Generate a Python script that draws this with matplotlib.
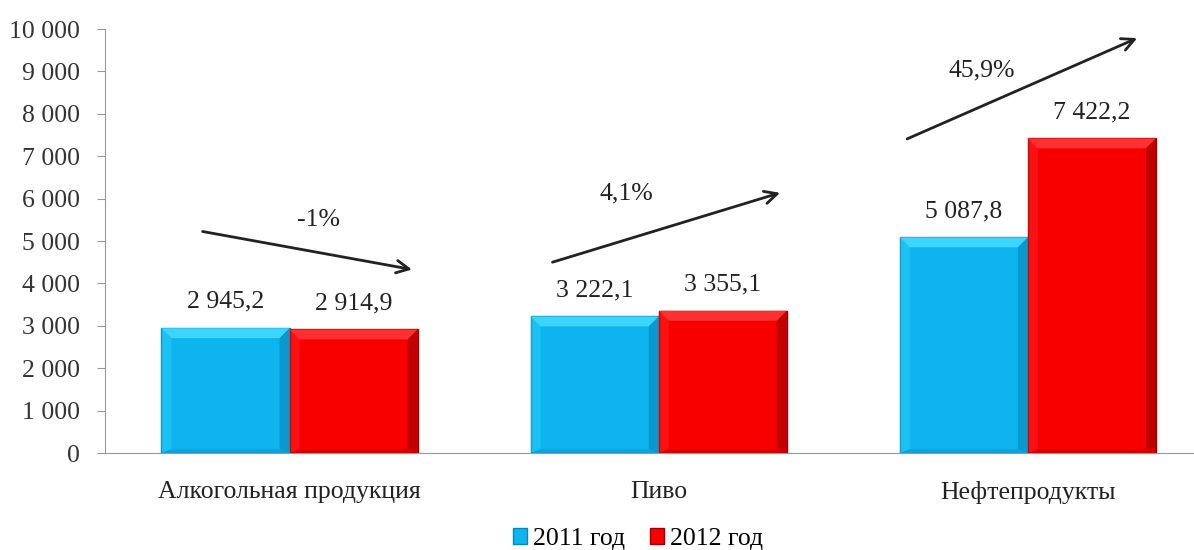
import matplotlib
matplotlib.use("Agg")
import matplotlib.pyplot as plt
from matplotlib.patches import Polygon
import numpy as np

categories = ["Алкогольная продукция", "Пиво", "Нефтепродукты"]
series_names = ["2011 год", "2012 год"]
values_2011 = [2945.2, 3222.1, 5087.8]
values_2012 = [2914.9, 3355.1, 7422.2]
value_labels_2011 = ["2 945,2", "3 222,1", "5 087,8"]
value_labels_2012 = ["2 914,9", "3 355,1", "7 422,2"]
growth_labels = ["-1%", "4,1%", "45,9%"]
yticks = [0, 1000, 2000, 3000, 4000, 5000, 6000, 7000, 8000, 9000, 10000]
ytick_labels = ["0", "1 000", "2 000", "3 000", "4 000", "5 000", "6 000",
                "7 000", "8 000", "9 000", "10 000"]

plt.rcParams['font.family'] = ['Liberation Serif', 'DejaVu Serif']

fig = plt.figure(figsize=(11.94, 5.5), dpi=100)
ax = fig.add_axes([105/1194, 1-453/550, 1-105/1194, (453-29)/550])

x = np.arange(len(categories))
w = 0.347
blue = "#0DB4EE"
red = "#F80000"
b1 = ax.bar(x - w/2, values_2011, w, color=blue, edgecolor="#0A86B4", linewidth=1, label=series_names[0], zorder=2)
b2 = ax.bar(x + w/2, values_2012, w, color=red, edgecolor="#9C0000", linewidth=1, label=series_names[1], zorder=2)

ax.set_xlim(-0.5, 2.45)
ax.set_ylim(0, 10000)

# bevel effect
fig.canvas.draw()
inv = ax.transData.inverted()
def bevel(rect, light, dark):
    x0, y0 = rect.get_x(), rect.get_y()
    x1, y1 = x0 + rect.get_width(), y0 + rect.get_height()
    p0 = ax.transData.transform((x0, y0))
    p1 = ax.transData.transform((x1, y1))
    d = 10
    q0 = inv.transform((p0[0]+d, p0[1]+d*0.4))
    q1 = inv.transform((p1[0]-d, p1[1]-d))
    top = Polygon([(x0, y1), (x1, y1), (q1[0], q1[1]), (q0[0], q1[1])], closed=True,
                  facecolor=light, edgecolor='none', zorder=3, alpha=0.85)
    right = Polygon([(x1, y1), (x1, y0), (q1[0], q0[1]), (q1[0], q1[1])], closed=True,
                    facecolor=dark, edgecolor='none', zorder=3, alpha=0.5)
    left = Polygon([(x0, y1), (x0, y0), (q0[0], q0[1]), (q0[0], q1[1])], closed=True,
                   facecolor=light, edgecolor='none', zorder=3, alpha=0.3)
    bottom = Polygon([(x0, y0), (x1, y0), (q1[0], q0[1]), (q0[0], q0[1])], closed=True,
                     facecolor=dark, edgecolor='none', zorder=3, alpha=0.3)
    for p in (top, right, left, bottom):
        ax.add_patch(p)

for r in b1.patches:
    bevel(r, "#45DDFF", "#0A7FAE")
for r in b2.patches:
    bevel(r, "#FF3A3A", "#8A0000")

fs = 18.5
for xi, v, lab in zip(x - w/2, values_2011, value_labels_2011):
    ax.annotate(lab, (xi, v), xytext=(0, 11), textcoords="offset points",
                ha="center", va="bottom", fontsize=fs, color="#222222")
for xi, v, lab in zip(x + w/2, values_2012, value_labels_2012):
    ax.annotate(lab, (xi, v), xytext=(0, 11), textcoords="offset points",
                ha="center", va="bottom", fontsize=fs, color="#222222")

# growth arrows
arrows = [((-0.243, 5236), (0.339, 4316)),
          ((0.705, 4481), (1.336, 6156)),
          ((1.666, 7382), (2.303, 9811))]
text_pos = [(0.077, 5495), (0.913, 6132), (1.875, 9033)]
for (s, e), tp, g in zip(arrows, text_pos, growth_labels):
    ax.annotate("", xy=e, xytext=s,
                arrowprops=dict(arrowstyle="->,head_length=0.9,head_width=0.45",
                                color="#222222", lw=2.0), zorder=5)
    ax.text(tp[0], tp[1], g, ha="center", va="center", fontsize=fs, color="#222222")

ax.set_yticks(yticks)
ax.set_yticklabels(ytick_labels, fontsize=fs, color="#333333")
ax.set_xticks(x)
ax.set_xticklabels(categories, fontsize=fs, color="#222222")
ax.tick_params(axis='x', length=0, pad=20)
ax.tick_params(axis='y', length=6, color="#999999", pad=12)
for sp in ("top", "right"):
    ax.spines[sp].set_visible(False)
ax.spines["left"].set_color("#999999")
ax.spines["bottom"].set_color("#999999")

leg = fig.legend(handles=[b1, b2], labels=series_names, loc="center",
                 bbox_to_anchor=(638/1194, 1-539/550), ncol=2, frameon=False,
                 fontsize=fs, handlelength=0.55, handleheight=0.55,
                 handletextpad=0.2, columnspacing=1.0)

fig.savefig("out.png", dpi=100)
